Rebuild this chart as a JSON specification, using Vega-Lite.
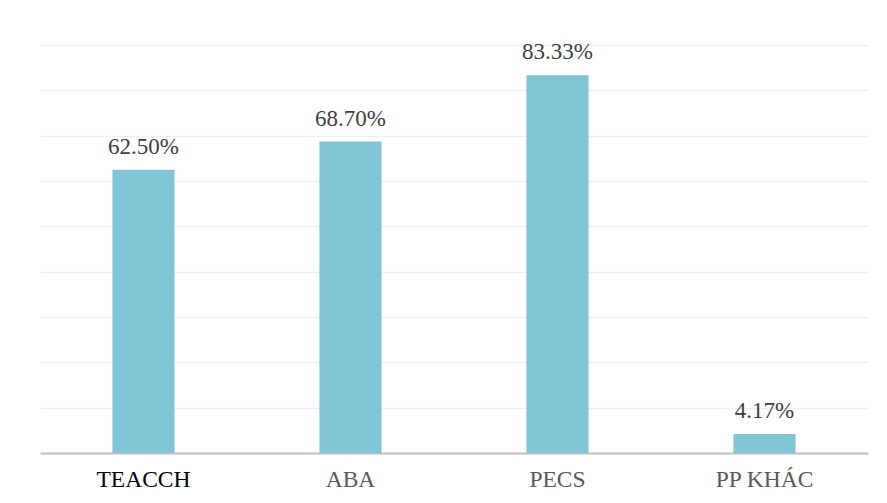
{
  "$schema": "https://vega.github.io/schema/vega-lite/v6.json",
  "autosize": {"type": "none"},
  "width": 828,
  "height": 408,
  "padding": {"left": 40, "top": 45, "right": 19, "bottom": 50},
  "background": "white",
  "config": {"view": {"stroke": null}, "font": "Liberation Serif"},
  "data": {"values": [
    {"method": "TEACCH", "pct": 62.5, "label": "62.50%"},
    {"method": "ABA", "pct": 68.7, "label": "68.70%"},
    {"method": "PECS", "pct": 83.33, "label": "83.33%"},
    {"method": "PP KHÁC", "pct": 4.17, "label": "4.17%"}
  ]},
  "encoding": {
    "x": {"field": "method", "type": "nominal", "sort": null,
      "scale": {"paddingInner": 0.7, "paddingOuter": 0.35},
      "axis": {"title": null, "labelAngle": 0, "labelFont": "Liberation Serif", "labelFontSize": 23.5,
        "labelColor": {"condition": {"test": "datum.value === 'TEACCH'", "value": "#000000"}, "value": "#595959"},
        "labelPadding": 14, "ticks": false, "domainColor": "#bfbfbf", "domainWidth": 2, "grid": false}},
    "y": {"field": "pct", "type": "quantitative",
      "scale": {"domain": [0, 90], "nice": false},
      "axis": {"title": null, "labels": false, "ticks": false, "domain": false, "values": [10,20,30,40,50,60,70,80,90],
        "gridColor": "#efefef", "gridWidth": 1.5}}
  },
  "layer": [
    {"mark": {"type": "bar", "color": "#80c4d5"}},
    {"mark": {"type": "text", "baseline": "bottom", "dy": -11, "font": "Liberation Serif", "fontSize": 23, "color": "#404040"},
     "encoding": {"text": {"field": "label"}}}
  ]
}
